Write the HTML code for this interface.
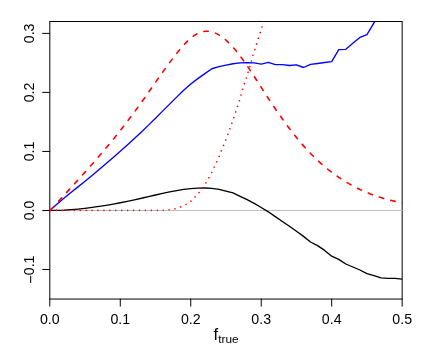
<!DOCTYPE html>
<html><head><meta charset="utf-8"><title>plot</title>
<style>
html,body{margin:0;padding:0;background:#fff;}
body{width:427px;height:356px;overflow:hidden;position:relative;}
svg{position:absolute;left:0;top:0;display:block;will-change:transform;}
text{font-family:"Liberation Sans",sans-serif;fill:#000;}
</style></head><body>
<svg width="427" height="356" viewBox="0 0 427 356">
<defs><clipPath id="c"><rect x="49.8" y="21.5" width="352.37" height="277.55"/></clipPath></defs>
<rect x="0" y="0" width="427" height="356" fill="#fff"/>
<g fill="none" stroke="#000" stroke-width="1" stroke-linecap="round">
<rect x="49.8" y="21.5" width="352.37" height="277.55"/>
<line x1="49.80" y1="299.05" x2="49.80" y2="306.15"/>
<line x1="120.27" y1="299.05" x2="120.27" y2="306.15"/>
<line x1="190.75" y1="299.05" x2="190.75" y2="306.15"/>
<line x1="261.22" y1="299.05" x2="261.22" y2="306.15"/>
<line x1="331.70" y1="299.05" x2="331.70" y2="306.15"/>
<line x1="402.17" y1="299.05" x2="402.17" y2="306.15"/>
<line x1="49.8" y1="33.40" x2="42.70" y2="33.40"/>
<line x1="49.8" y1="92.42" x2="42.70" y2="92.42"/>
<line x1="49.8" y1="151.44" x2="42.70" y2="151.44"/>
<line x1="49.8" y1="210.47" x2="42.70" y2="210.47"/>
<line x1="49.8" y1="269.50" x2="42.70" y2="269.50"/>
</g>
<line x1="49.8" y1="210.47" x2="402.62" y2="210.47" stroke="#bebebe" stroke-width="1"/>
<g clip-path="url(#c)" fill="none" stroke-linejoin="round">
<path d="M49.80,210.45 L56.85,210.36 L63.89,210.10 L70.94,209.66 L77.99,209.07 L85.04,208.33 L92.08,207.45 L99.13,206.44 L106.18,205.31 L113.23,204.08 L120.27,202.75 L127.32,201.33 L134.37,199.84 L141.42,198.27 L148.46,196.66 L155.51,195.02 L162.56,193.41 L169.61,191.91 L176.65,190.57 L183.70,189.45 L190.75,188.60 L197.80,188.10 L204.84,188.00 L211.89,188.36 L218.94,189.32 L225.99,191.05 L233.03,192.81 L240.08,196.31 L247.13,199.67 L254.17,203.30 L261.22,207.52 L268.27,211.80 L275.32,216.62 L282.36,221.50 L289.41,226.20 L296.46,231.21 L303.51,236.40 L310.55,242.01 L317.60,245.67 L324.65,250.40 L331.70,256.20 L338.74,259.40 L345.79,264.00 L352.84,267.00 L359.89,270.00 L366.93,273.60 L373.98,275.60 L381.03,277.80 L388.08,278.30 L395.12,278.30 L402.17,279.20" stroke="#000" stroke-width="1.35" stroke-linecap="round"/>
<path d="M49.80,210.45 L56.85,204.25 L63.89,198.31 L70.94,192.54 L77.99,186.85 L85.04,181.18 L92.08,175.43 L99.13,169.56 L106.18,163.58 L113.23,157.51 L120.27,151.35 L127.32,145.05 L134.37,138.60 L141.42,131.95 L148.46,125.12 L155.51,118.16 L162.56,111.14 L169.61,104.11 L176.65,97.13 L183.70,90.26 L190.75,83.98 L197.80,78.64 L204.84,73.62 L211.89,68.76 L218.94,66.67 L225.99,65.13 L233.03,63.72 L240.08,62.90 L247.13,62.78 L254.17,62.80 L261.22,64.10 L268.27,62.40 L275.32,64.60 L282.36,64.60 L289.41,65.50 L296.46,64.80 L303.51,67.50 L310.55,64.40 L317.60,63.50 L324.65,62.50 L331.70,61.60 L338.74,49.70 L345.79,49.30 L352.84,43.30 L359.89,37.40 L366.93,34.60 L373.98,22.90 L381.03,11.20" stroke="#0000ff" stroke-width="1.35" stroke-linecap="round"/>
<path d="M49.80,210.47 L53.32,207.02 L56.85,203.15 L60.37,199.30 L63.89,195.44 L67.42,191.59 L70.94,187.72 L74.47,183.85 L77.99,179.96 L81.51,176.05 L85.04,172.12 L88.56,168.16 L92.08,164.16 L95.61,160.13 L99.13,156.06 L102.66,151.94 L106.18,147.77 L109.70,143.55 L113.23,139.27 L116.75,134.92 L120.27,130.51 L123.80,126.03 L127.32,121.47 L130.85,116.83 L134.37,112.10 L137.89,107.29 L141.42,102.38 L144.94,97.40 L148.46,92.38 L151.99,87.32 L155.51,82.27 L159.03,77.25 L162.56,72.28 L166.08,67.39 L169.61,62.60 L173.13,57.94 L176.65,53.44 L180.18,49.13 L183.70,45.08 L187.22,41.40 L190.75,38.17 L194.27,35.47 L197.80,33.39 L201.32,32.01 L204.84,31.32 L208.37,31.28 L211.89,31.88 L215.41,33.09 L218.94,34.88 L222.46,37.22 L225.99,40.09 L229.51,43.45 L233.03,47.25 L236.56,51.44 L240.08,55.97 L243.60,60.79 L247.13,65.84 L250.65,71.08 L254.17,76.45 L257.70,81.90 L261.22,87.38 L264.75,92.84 L268.27,98.24 L271.79,103.56 L275.32,108.79 L278.84,113.92 L282.36,118.94 L285.89,123.83 L289.41,128.57 L292.94,133.16 L296.46,137.58 L299.98,141.83 L303.51,145.88 L307.03,149.76 L310.55,153.46 L314.08,157.00 L317.60,160.36 L321.12,163.57 L324.65,166.61 L328.17,169.51 L331.70,172.25 L335.22,174.85 L338.74,177.32 L342.27,179.64 L345.79,181.84 L349.31,183.91 L352.84,185.86 L356.36,187.69 L359.89,189.41 L363.41,191.02 L366.93,192.53 L370.46,193.94 L373.98,195.25 L377.50,196.48 L381.03,197.61 L384.55,198.67 L388.08,199.65 L391.60,200.55 L395.12,201.39 L398.65,202.17 L402.17,202.88 L403.67,203.18" stroke="#ff0000" stroke-width="1.6" stroke-linecap="round" stroke-dasharray="4.4 7.44" stroke-dashoffset="-1.1"/>
<path d="M50.56,210.40 L57.61,210.40 L64.66,210.40 L71.71,210.40 L78.76,210.40 L85.81,210.40 L92.86,210.40 L99.91,210.40 L106.96,210.40 L114.01,210.40 L121.06,210.40 L128.11,210.40 L135.16,210.40 L142.21,210.40 L149.26,210.40 L156.31,210.36 L160.00,210.31 L161.50,210.28 L163.00,210.25 L164.50,210.19 L166.00,210.09 L167.50,209.96 L169.00,209.81 L170.50,209.63 L172.00,209.40 L173.50,209.12 L175.00,208.80 L176.50,208.39 L178.00,207.89 L179.50,207.32 L181.00,206.75 L182.50,206.16 L184.00,205.52 L185.50,204.81 L187.00,203.98 L188.50,203.02 L190.00,201.93 L191.50,200.69 L193.00,199.16 L194.50,197.53 L196.00,195.96 L197.50,194.40 L199.00,192.70 L200.50,190.74 L202.00,188.61 L203.50,186.51 L205.00,184.39 L206.50,181.98 L208.00,179.20 L209.50,176.49 L211.00,173.85 L212.50,170.79 L214.00,167.42 L215.50,164.29 L217.00,161.14 L218.50,157.85 L220.00,154.24 L221.50,150.46 L223.00,146.82 L224.50,143.12 L226.00,139.34 L227.50,135.48 L229.00,131.24 L230.50,126.89 L232.00,122.65 L233.50,118.57 L235.00,113.79 L236.50,109.32 L238.00,105.08 L239.50,100.55 L241.00,94.64 L242.50,89.74 L244.00,85.06 L245.50,80.16 L247.00,75.54 L248.50,71.00 L250.00,65.81 L251.50,60.54 L253.00,55.00 L254.50,50.88 L256.00,45.77 L257.50,40.85 L259.00,36.24 L260.50,31.50 L262.00,26.59 L263.50,22.01 L265.00,17.37" stroke="#ff0000" stroke-width="1.6" stroke-linecap="round" stroke-dasharray="0.01 5.92"/>
</g>
<g font-size="14.2" text-anchor="middle">
<text x="49.80" y="323.5">0.0</text>
<text x="120.27" y="323.5">0.1</text>
<text x="190.75" y="323.5">0.2</text>
<text x="261.22" y="323.5">0.3</text>
<text x="331.70" y="323.5">0.4</text>
<text x="402.17" y="323.5">0.5</text>
<text transform="translate(33.7,33.40) rotate(-90)">0.3</text>
<text transform="translate(33.7,92.42) rotate(-90)">0.2</text>
<text transform="translate(33.7,151.44) rotate(-90)">0.1</text>
<text transform="translate(33.7,210.47) rotate(-90)">0.0</text>
<text transform="translate(33.7,265.35) rotate(-90)">0.1</text>
<rect x="30.15" y="275.77" width="1.04" height="7.19" fill="#000"/>
</g>
<text x="213.4" y="339.8" font-size="16.6">f</text>
<text x="218.25" y="342.7" font-size="11.8">true</text>
</svg></body></html>
